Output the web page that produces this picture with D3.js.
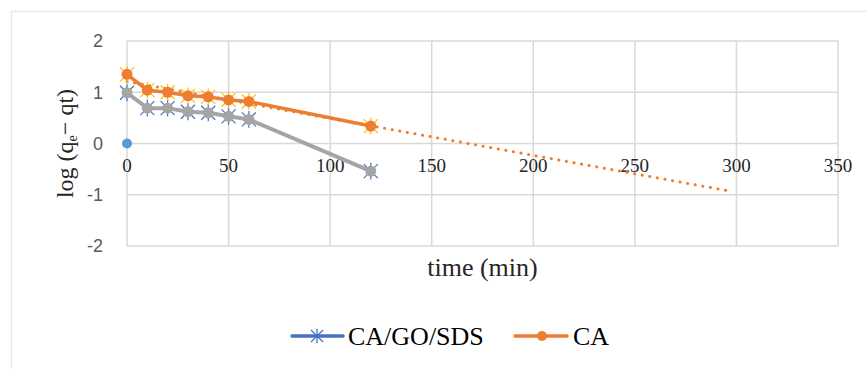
<!DOCTYPE html>
<html lang="en">
<head>
    <meta charset="UTF-8">
    <title>log (qe - qt) vs time</title>
    <script src="https://cdnjs.cloudflare.com/ajax/libs/d3/7.9.0/d3.min.js"></script>
    <style>
        html, body { margin: 0; padding: 0; background: #fff; }
        svg { display: block; }
    </style>
</head>
<body>
    <svg width="867" height="369"></svg>
    <script>
        // data
        const time = [0, 10, 20, 30, 40, 50, 60, 120];
        const caGoSds = [0.99, 0.69, 0.69, 0.62, 0.60, 0.53, 0.47, -0.54];
        const ca = [1.35, 1.04, 1.00, 0.93, 0.91, 0.85, 0.82, 0.34];
        const trendTime = [0, 297];
        const trendCa = [1.21, -0.93];
        const originTime = [0];
        const originVal = [0];
        const xTicks = [0, 50, 100, 150, 200, 250, 300, 350];
        const yTicks = [-2, -1, 0, 1, 2];

        const svg = d3.select("svg");
        const x = d3.scaleLinear().domain([0, 350]).range([127, 838]);
        const y = d3.scaleLinear().domain([-2, 2]).range([246, 41]);

        // chart frame (faint)
        svg.append("path")
            .attr("d", "M11.5,369 V11.5 H867")
            .attr("fill", "none")
            .attr("stroke", "#e4eaf3")
            .attr("stroke-width", 1.5);

        // gridlines
        const grid = svg.append("g");
        grid.selectAll(".hg").data(yTicks).enter().append("line")
            .attr("x1", x(0)).attr("x2", x(350))
            .attr("y1", d => y(d)).attr("y2", d => y(d))
            .attr("stroke", "#d9d9d9").attr("stroke-width", 1.5);
        grid.selectAll(".vg").data(xTicks).enter().append("line")
            .attr("x1", d => x(d)).attr("x2", d => x(d))
            .attr("y1", y(2)).attr("y2", y(-2))
            .attr("stroke", "#d9d9d9").attr("stroke-width", 1.5);

        // y tick labels
        svg.append("g").selectAll("text").data(yTicks).enter().append("text")
            .attr("x", 103).attr("y", d => y(d))
            .attr("dy", "0.35em")
            .attr("text-anchor", "end")
            .attr("font-family", "Liberation Sans, Arial, sans-serif")
            .attr("font-size", 18)
            .attr("fill", "#595959")
            .text(d => d);

        // x tick labels sit under the zero line
        svg.append("g").selectAll("text").data(xTicks).enter().append("text")
            .attr("x", d => x(d)).attr("y", y(0) + 28)
            .attr("text-anchor", "middle")
            .attr("font-family", "Liberation Serif, Times New Roman, serif")
            .attr("font-size", 19)
            .attr("fill", "#262626")
            .text(d => d);

        // axis titles
        svg.append("text")
            .attr("x", (x(0) + x(350)) / 2).attr("y", 276)
            .attr("text-anchor", "middle")
            .attr("font-family", "Liberation Serif, Times New Roman, serif")
            .attr("font-size", 26)
            .attr("fill", "#262626")
            .text("time (min)");

        const yt = svg.append("text")
            .attr("transform", `translate(73,${(y(2) + y(-2)) / 2}) rotate(-90)`)
            .attr("text-anchor", "middle")
            .attr("font-family", "Liberation Serif, Times New Roman, serif")
            .attr("font-size", 24)
            .attr("fill", "#262626");
        yt.append("tspan").text("log (q");
        yt.append("tspan").attr("font-size", 14).attr("dy", 4).text("e");
        yt.append("tspan").attr("dy", -4).text("\u2212 qt)");

        // marker shapes
        const star = r => `M${-r},${-r}L${r},${r}M${-r},${r}L${r},${-r}M0,${-r * 1.2}L0,${r * 1.2}`;

        const pts = (xs, ys) => xs.map((t, i) => [t, ys[i]]);
        const line = d3.line().x(d => x(d[0])).y(d => y(d[1]));

        // trendline for CA (dotted)
        svg.append("path")
            .attr("d", line(pts(trendTime, trendCa)))
            .attr("fill", "none")
            .attr("stroke", "#ed7d31")
            .attr("stroke-width", 3)
            .attr("stroke-linecap", "round")
            .attr("stroke-dasharray", "0.1 7.6");

        // CA/GO/SDS : blue star markers under grey line and dots
        const g1 = pts(time, caGoSds);
        svg.append("g").selectAll("path").data(g1).enter().append("path")
            .attr("transform", d => `translate(${x(d[0])},${y(d[1])})`)
            .attr("d", star(7))
            .attr("stroke", "#4472c4").attr("stroke-width", 1.2).attr("fill", "none");
        svg.append("path")
            .attr("d", line(g1))
            .attr("fill", "none").attr("stroke", "#a5a5a5").attr("stroke-width", 4)
            .attr("stroke-linejoin", "round");
        svg.append("g").selectAll("circle").data(g1).enter().append("circle")
            .attr("cx", d => x(d[0])).attr("cy", d => y(d[1])).attr("r", 5.5)
            .attr("fill", "#a5a5a5");

        // CA : yellow star markers under orange line and dots
        const g2 = pts(time, ca);
        svg.append("g").selectAll("path").data(g2).enter().append("path")
            .attr("transform", d => `translate(${x(d[0])},${y(d[1])})`)
            .attr("d", star(7))
            .attr("stroke", "#ffc000").attr("stroke-width", 1.2).attr("fill", "none");
        svg.append("path")
            .attr("d", line(g2))
            .attr("fill", "none").attr("stroke", "#ed7d31").attr("stroke-width", 3.5)
            .attr("stroke-linejoin", "round");
        svg.append("g").selectAll("circle").data(g2).enter().append("circle")
            .attr("cx", d => x(d[0])).attr("cy", d => y(d[1])).attr("r", 5.5)
            .attr("fill", "#ed7d31");

        // stray blue point at origin
        svg.append("g").selectAll("circle").data(pts(originTime, originVal)).enter().append("circle")
            .attr("cx", d => x(d[0])).attr("cy", d => y(d[1])).attr("r", 5)
            .attr("fill", "#5b9bd5");

        // legend
        const leg = svg.append("g");
        leg.append("line").attr("x1", 292).attr("x2", 343).attr("y1", 336).attr("y2", 336)
            .attr("stroke", "#4472c4").attr("stroke-width", 3.5).attr("stroke-linecap", "round");
        leg.append("path").attr("transform", "translate(317,336)").attr("d", star(6))
            .attr("stroke", "#4472c4").attr("stroke-width", 1.3).attr("fill", "none");
        leg.append("text").attr("x", 348).attr("y", 345)
            .attr("font-family", "Liberation Serif, Times New Roman, serif")
            .attr("font-size", 26).attr("fill", "#000")
            .text("CA/GO/SDS");
        leg.append("line").attr("x1", 515).attr("x2", 567).attr("y1", 336).attr("y2", 336)
            .attr("stroke", "#ed7d31").attr("stroke-width", 3.5).attr("stroke-linecap", "round");
        leg.append("circle").attr("cx", 542).attr("cy", 336).attr("r", 5).attr("fill", "#ed7d31");
        leg.append("text").attr("x", 573).attr("y", 345)
            .attr("font-family", "Liberation Serif, Times New Roman, serif")
            .attr("font-size", 26).attr("fill", "#000")
            .text("CA");
    </script>
</body>
</html>
